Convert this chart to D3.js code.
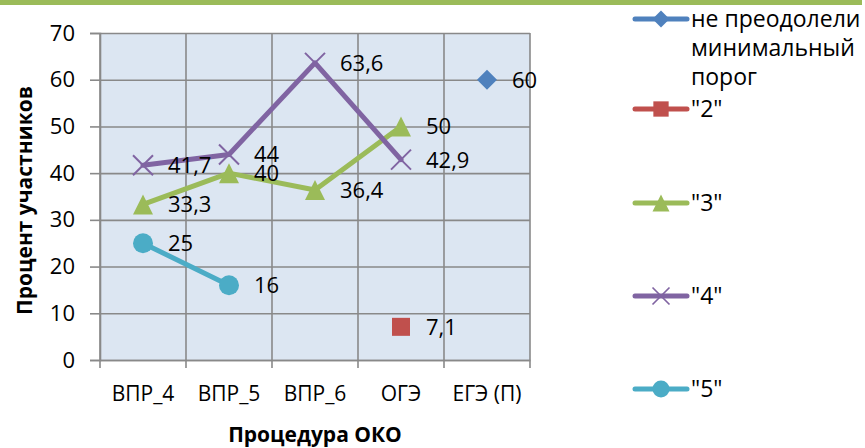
<!DOCTYPE html>
<html>
<head>
<meta charset="utf-8">
<script src="https://cdn.jsdelivr.net/npm/d3@7"></script>
<style>
  body { margin: 0; background: #fff; }
  svg { display: block; font-family: 'Open Sans', 'Noto Sans', sans-serif; }
</style>
</head>
<body>
<div id="chart"></div>
<script>
const categories = ['ВПР_4', 'ВПР_5', 'ВПР_6', 'ОГЭ', 'ЕГЭ (П)']
const seriesNames = ['не преодолели минимальный порог', '"2"', '"3"', '"4"', '"5"']
const notPassed = [null, null, null, null, 60]
const grade2 = [null, null, null, 7.1, null]
const grade3 = [33.3, 40, 36.4, 50, null]
const grade4 = [41.7, 44, 63.6, 42.9, null]
const grade5 = [25, 16, null, null, null]
const yTicks = [0, 10, 20, 30, 40, 50, 60, 70]

const series = [
  { name: seriesNames[0], values: notPassed, color: '#4f81bd', marker: 'diamond' },
  { name: seriesNames[1], values: grade2, color: '#c0504d', marker: 'square' },
  { name: seriesNames[2], values: grade3, color: '#9bbb59', marker: 'triangle' },
  { name: seriesNames[3], values: grade4, color: '#8064a2', marker: 'cross' },
  { name: seriesNames[4], values: grade5, color: '#4bacc6', marker: 'circle' },
]

const width = 865, height = 448
const margin = { top: 33, left: 100, right: 335, bottom: 88 }
const innerW = width - margin.left - margin.right
const innerH = height - margin.top - margin.bottom

const svg = d3.select('#chart').append('svg').attr('width', width).attr('height', height)

// top accent bar
svg.append('rect').attr('x', 0).attr('y', 0).attr('width', 862).attr('height', 5).attr('fill', '#9bbb59')

const x = d3.scaleBand().domain(categories).range([0, innerW])
const y = d3.scaleLinear().domain([0, 70]).range([innerH, 0])

const g = svg.append('g').attr('transform', `translate(${margin.left},${margin.top})`)

g.append('rect').attr('width', innerW).attr('height', innerH).attr('fill', '#dce6f2')

const gridColor = '#898989'
// horizontal grid
g.append('g')
  .call(d3.axisLeft(y).tickValues(yTicks).tickSize(-innerW).tickFormat(''))
  .call((a) => a.select('.domain').remove())
  .call((a) => a.selectAll('.tick line').attr('stroke', gridColor).attr('stroke-width', 1.6))

// vertical grid at band boundaries
const bounds = categories.map((c) => x(c)).concat([innerW])
g.append('g')
  .selectAll('line')
  .data(bounds)
  .join('line')
  .attr('x1', (d) => d).attr('x2', (d) => d)
  .attr('y1', 0).attr('y2', innerH + 8)
  .attr('stroke', gridColor).attr('stroke-width', 1.6)

// y axis
const yAxis = g.append('g')
  .call(d3.axisLeft(y).tickValues(yTicks).tickSize(10).tickPadding(15))
yAxis.select('.domain').attr('stroke', gridColor).attr('stroke-width', 1.6)
yAxis.selectAll('.tick line').attr('stroke', gridColor).attr('stroke-width', 1.6)
yAxis.selectAll('.tick text').attr('font-size', 22).attr('fill', '#000').attr('font-family', "'Open Sans', sans-serif")

// x axis
const xAxis = g.append('g')
  .attr('transform', `translate(0,${innerH})`)
  .call(d3.axisBottom(x).tickSize(0).tickPadding(26))
xAxis.select('.domain').attr('stroke', gridColor).attr('stroke-width', 1.6)
xAxis.selectAll('.tick text').attr('font-size', 21).attr('fill', '#000').attr('font-family', "'Open Sans', sans-serif")

// axis titles
svg.append('text')
  .attr('x', margin.left + innerW / 2)
  .attr('y', 442)
  .attr('text-anchor', 'middle')
  .attr('font-weight', 'bold')
  .attr('font-size', 21)
  .text('Процедура ОКО')

svg.append('text')
  .attr('transform', `translate(32,${margin.top + innerH / 2 + 4}) rotate(-90)`)
  .attr('text-anchor', 'middle')
  .attr('font-weight', 'bold')
  .attr('font-size', 21)
  .text('Процент участников')

const cx = (i) => x(categories[i]) + x.bandwidth() / 2

const drawMarker = (sel, type, color) => {
  if (type === 'diamond') {
    sel.append('path').attr('d', 'M0,-10L10,0L0,10L-10,0Z').attr('fill', color)
  } else if (type === 'square') {
    sel.append('rect').attr('x', -9).attr('y', -9).attr('width', 18).attr('height', 18).attr('fill', color)
  } else if (type === 'triangle') {
    sel.append('path').attr('d', 'M0,-10L10,10L-10,10Z').attr('fill', color)
  } else if (type === 'cross') {
    sel.append('path').attr('d', 'M-10,-10L10,10M-10,10L10,-10').attr('stroke', color).attr('stroke-width', 2).attr('fill', 'none')
  } else if (type === 'circle') {
    sel.append('circle').attr('r', 10).attr('fill', color)
  }
}

const line = d3.line()
  .defined((d) => d.v != null)
  .x((d) => cx(d.i))
  .y((d) => y(d.v))

series.forEach((s) => {
  const pts = s.values.map((v, i) => ({ v, i }))
  g.append('path')
    .datum(pts)
    .attr('d', line)
    .attr('fill', 'none')
    .attr('stroke', s.color)
    .attr('stroke-width', 5)
    .attr('stroke-linejoin', 'round')
    .attr('stroke-linecap', 'round')
  pts.filter((d) => d.v != null).forEach((d) => {
    const m = g.append('g').attr('transform', `translate(${cx(d.i)},${y(d.v)})`)
    drawMarker(m, s.marker, s.color)
  })
})

// data labels
series.forEach((s) => {
  s.values.forEach((v, i) => {
    if (v == null) return
    g.append('text')
      .attr('x', cx(i) + 25)
      .attr('y', y(v))
      .attr('dy', '0.36em')
      .attr('font-size', 22)
      .attr('fill', '#000')
      .text(String(v).replace('.', ','))
  })
})

// legend
const legendRows = [
  { s: series[0], y: 19, lines: ['не преодолели', 'минимальный', 'порог'] },
  { s: series[1], y: 109, lines: ['"2"'] },
  { s: series[2], y: 203, lines: ['"3"'] },
  { s: series[3], y: 296, lines: ['"4"'] },
  { s: series[4], y: 389, lines: ['"5"'] },
]
const legend = svg.append('g')
legendRows.forEach((r) => {
  const row = legend.append('g').attr('transform', `translate(0,${r.y})`)
  row.append('line')
    .attr('x1', 635).attr('x2', 687)
    .attr('stroke', r.s.color).attr('stroke-width', 5).attr('stroke-linecap', 'round')
  const m = row.append('g').attr('transform', 'translate(661,0) scale(0.85)')
  drawMarker(m, r.s.marker, r.s.color)
  const t = row.append('text').attr('x', 691).attr('font-size', 23).attr('fill', '#000')
  r.lines.forEach((ln, k) => {
    t.append('tspan').attr('x', 691).attr('y', k * 29).attr('dy', '0.36em').text(ln)
  })
})
</script>
</body>
</html>
